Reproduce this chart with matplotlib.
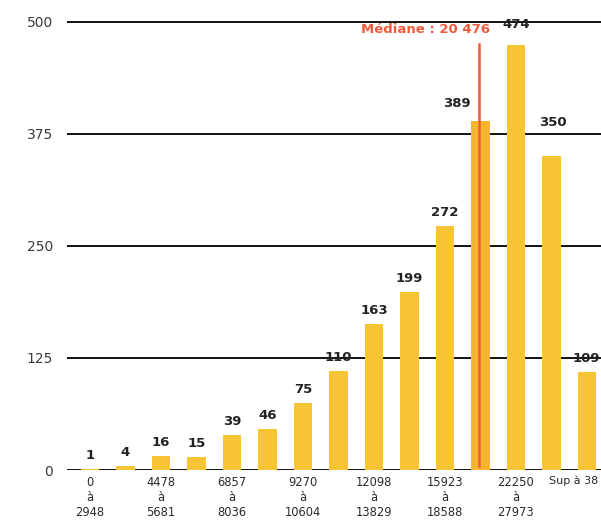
import matplotlib
matplotlib.use("Agg")
import matplotlib.pyplot as plt

values = [1, 4, 16, 15, 39, 46, 75, 110, 163, 199, 272, 389, 474, 350, 109]
xtick_labels = ["0\nà\n2948", "4478\nà\n5681", "6857\nà\n8036", "9270\nà\n10604",
                "12098\nà\n13829", "15923\nà\n18588", "22250\nà\n27973", "Sup à 38"]
yticks = [0, 125, 250, 375, 500]
median_label = "Médiane : 20 476"
median_bar = 11

bar_color = "#F7C533"
median_bar_color = "#F5B52C"
median_color = "#EE5A3C"

fig = plt.figure(figsize=(6.01, 5.21), dpi=100)
ax = fig.add_axes([67/601, 51/521, 1 - 67/601, (470-4)/521])

x = list(range(len(values)))
colors = [median_bar_color if i == median_bar else bar_color for i in x]
ax.bar(x, values, width=0.52, color=colors, zorder=3)

ax.set_xlim(-0.65, 14.4)
ax.set_ylim(0, 520)
ax.set_yticks(yticks)
ax.set_yticklabels([str(v) for v in yticks], fontsize=10, color="#3a3a3a")
ax.tick_params(axis="y", length=0, pad=10)
tick_pos = x[::2][:len(xtick_labels) - 1]
ax.set_xticks(tick_pos)
ax.set_xticklabels(xtick_labels[:-1], fontsize=8.3, color="#2a2a2a", linespacing=1.2, va="top")
ax.tick_params(axis="x", length=0, pad=4)
# last (truncated) category label, shifted left so it stays inside the figure
ax.annotate(xtick_labels[-1], xy=(12.93, 0), xycoords=("data", "axes fraction"),
            xytext=(0, -4), textcoords="offset points", ha="left", va="top",
            fontsize=8, color="#2a2a2a")
for s in ax.spines.values():
    s.set_visible(False)
ax.yaxis.grid(True, color="black", lw=1.3, zorder=1)
ax.set_axisbelow(True)

# value labels
label_offsets = {11: (-17, 8), 13: (1, 20), 12: (0, 10)}
for i, v in enumerate(values):
    dx, dy = label_offsets.get(i, (0, 5))
    ax.annotate(str(v), (i, v), xytext=(dx, dy), textcoords="offset points",
                ha="center", va="bottom", fontsize=9.5, fontweight="bold",
                color="#222222", zorder=5)

# median line
ax.plot([median_bar - 0.05, median_bar - 0.05], [5, 475], color=median_color, lw=1.8, zorder=4)
ax.text(median_bar + 0.27, 491, median_label, ha="right", va="center",
        fontsize=9.5, fontweight="bold", color=median_color, zorder=5)

fig.savefig("out.png", dpi=100)
